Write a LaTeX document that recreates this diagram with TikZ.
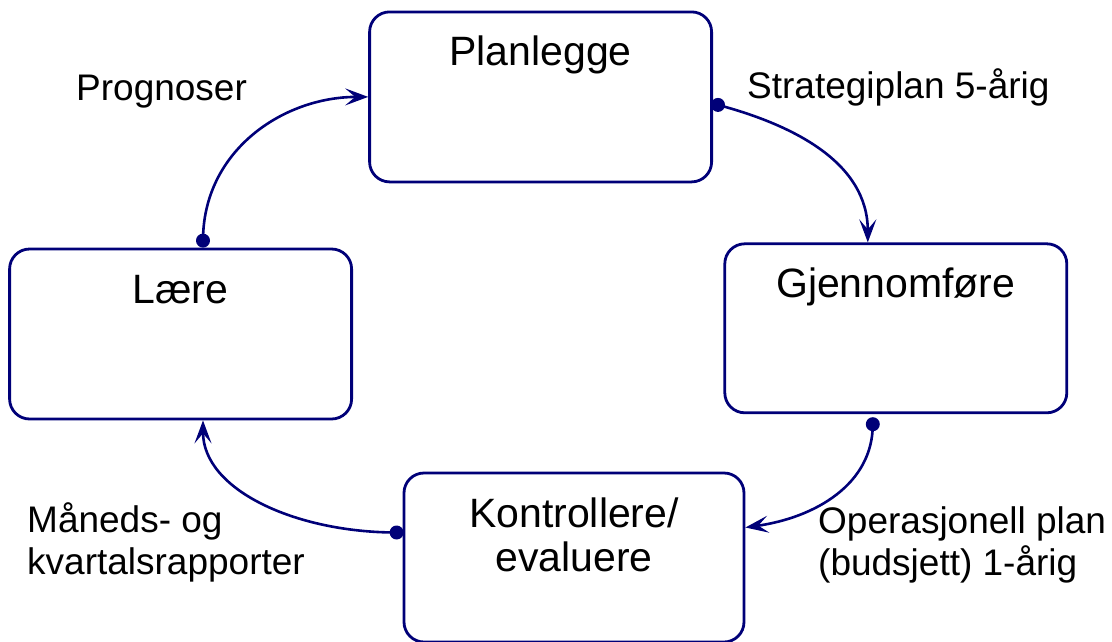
\documentclass[tikz,border=0pt]{standalone}
\usepackage{fontspec}
\setmainfont{Liberation Sans}
\usetikzlibrary{arrows.meta}
\definecolor{linenavy}{RGB}{0,0,120}
\tikzset{
  stagebox/.style={draw=linenavy, line width=2.8pt, rounded corners=20pt,
    fill=white, inner sep=0pt},
  stagetitle/.style={font=\fontsize{41}{44}\selectfont, align=center,
    inner sep=0pt, anchor=base},
  flowlabel/.style={font=\fontsize{37}{42}\selectfont, align=left,
    inner sep=0pt, anchor=base west},
  flow/.style={draw=linenavy, line width=2.6pt,
    -{Stealth[length=23pt, width=17pt, inset=10pt]}},
  flowdot/.style={fill=linenavy}
}
\begin{document}
\begin{tikzpicture}[x=1pt, y=-1pt]
\useasboundingbox (0,0) rectangle (1112,641);

% the four stages of the planning cycle
\node[stagebox, minimum width=342pt, minimum height=170pt] (plan)  at (540.6,96.9) {};
\node[stagebox, minimum width=342pt, minimum height=169pt] (gjen)  at (895.8,328.3) {};
\node[stagebox, minimum width=342pt, minimum height=170pt] (laere) at (180.6,334) {};
\node[stagebox, minimum width=340pt, minimum height=169pt] (kontr) at (574,557.5) {};

% stage titles (multi-line nodes are placed by the baseline of their last line)
\node[stagetitle] (planT)  at (540.6,65)  {Planlegge};
\node[stagetitle] (gjenT)  at (895.8,297) {Gjennomføre};
\node[stagetitle] (laereT) at (180.6,303) {Lære};
\node[stagetitle] (kontrT) at (574,571)   {Kontrollere/\\evaluere};

% connector end points on the box borders
\coordinate (d1) at ([xshift=22.4pt, yshift=7pt]laere.north);
\coordinate (a1) at (plan.west);
\coordinate (d2) at ([xshift=5pt, yshift=-8pt]plan.east);
\coordinate (a2) at ([xshift=-28pt]gjen.north);
\coordinate (d3) at ([xshift=-23pt, yshift=-10pt]gjen.south);
\coordinate (a3) at ([yshift=30pt]kontr.east);
\coordinate (d4) at ([xshift=-6pt, yshift=25pt]kontr.west);
\coordinate (a4) at ([xshift=22.4pt]laere.south);

% cycle connectors
\draw[flow] (d1) .. controls +(0,-90) and +(-85,0) .. (a1);
\draw[flow] (d2) .. controls +(75,20) and +(0,-80) .. (a2);
\draw[flow] (d3) .. controls +(0,60) and +(70,-10) .. (a3);
\draw[flow] (d4) .. controls +(-100,0) and +(0,70) .. (a4);

\fill[flowdot] (d1) circle (7pt);
\fill[flowdot] (d2) circle (7pt);
\fill[flowdot] (d3) circle (7pt);
\fill[flowdot] (d4) circle (7pt);

% connector labels
\node[flowlabel] (lprog)  at (76,100.7)  {Prognoser};
\node[flowlabel] (lstrat) at (747,98.3)  {Strategiplan 5-årig};
\node[flowlabel] (lops)   at (818,575)   {Operasjonell plan\\(budsjett) 1-årig};
\node[flowlabel] (lmnd)   at (27,574)    {Måneds- og\\kvartalsrapporter};
\end{tikzpicture}
\end{document}
